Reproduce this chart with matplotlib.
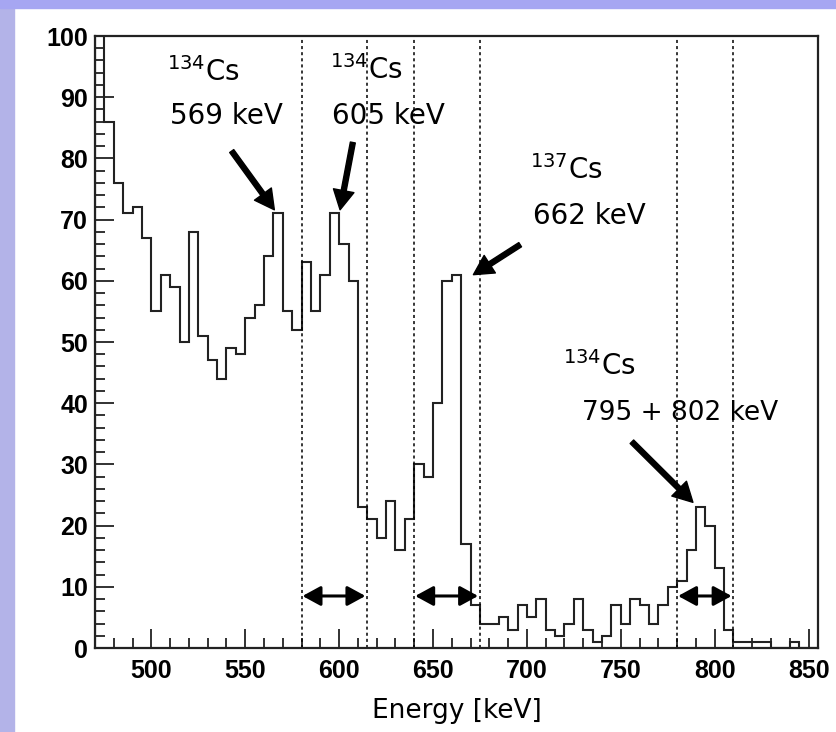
import matplotlib
matplotlib.use('Agg')
import matplotlib.pyplot as plt
import numpy as np
from matplotlib.patches import Rectangle

# energy spectrum, 5 keV bins starting at 470 keV
bin_lo = 470
bin_width = 5
counts = [
    104, 86, 76, 71, 72, 67, 55, 61, 59, 50,   # 470-515
    68, 51, 47, 44, 49, 48, 54, 56, 64, 71,    # 520-565
    55, 52, 63, 55, 61, 71, 66, 60, 23, 21,    # 570-615
    18, 24, 16, 21, 30, 28, 40, 60, 61, 17,    # 620-665
    7, 4, 4, 5, 3, 7, 5, 8, 3, 2,              # 670-715
    4, 8, 3, 1, 2, 7, 4, 8, 7, 4,              # 720-765
    7, 10, 11, 16, 23, 20, 13, 3, 1, 1,        # 770-815
    1, 1, 0, 0, 1, 0, 0,                       # 820-850
]
edges = bin_lo + bin_width * np.arange(len(counts) + 1)

# integration windows (dotted lines)
windows = [(580, 615), (640, 675), (780, 810)]

plt.rcParams['mathtext.default'] = 'regular'

fig = plt.figure(figsize=(8.37, 7.32), dpi=100)
fig.patch.set_facecolor('white')
fig.add_artist(Rectangle((0, 0), 14 / 837, 1, transform=fig.transFigure,
                         color='#b3b3e8', zorder=0))
fig.add_artist(Rectangle((0, 1 - 8 / 732), 1, 8 / 732, transform=fig.transFigure,
                         color='#a6a6f2', zorder=0))

ax = fig.add_axes([95 / 837, 84 / 732, 723 / 837, 612 / 732])
ax.stairs(counts, edges, color='#222222', lw=1.5)
ax.set_xlim(470, 855)
ax.set_ylim(0, 100)

for lo, hi in windows:
    for e in (lo, hi):
        ax.axvline(e, color='black', lw=1.1, ls=(0, (2, 2)))
    ax.annotate('', xy=(hi - 1, 8.5), xytext=(lo + 0.5, 8.5),
                arrowprops=dict(arrowstyle='<|-|>,head_length=0.55,head_width=0.3',
                                color='black', lw=2.2, mutation_scale=20,
                                shrinkA=0, shrinkB=0))

txt = dict(fontsize=20, family='DejaVu Sans', ha='left', va='baseline')
ax.text(508.4, 92.6, r'$^{134}$Cs', **txt)
ax.text(510, 85.6, '569 keV', **txt)
ax.text(595.2, 93, r'$^{134}$Cs', **txt)
ax.text(596.1, 85.6, '605 keV', **txt)
ax.text(701.8, 76.7, r'$^{137}$Cs', **txt)
ax.text(703.3, 69.3, '662 keV', **txt)
ax.text(719.3, 44.6, r'$^{134}$Cs', **txt)
ax.text(729.3, 37.2, '795 + 802 keV', fontsize=19, family='DejaVu Sans',
        ha='left', va='baseline')

arr = dict(arrowstyle='simple,head_length=0.7,head_width=0.75,tail_width=0.18',
           color='black', mutation_scale=20, shrinkA=0, shrinkB=0)
ax.annotate('', xy=(565.5, 71.6), xytext=(542.8, 81.2), arrowprops=arr)
ax.annotate('', xy=(600.5, 71.6), xytext=(607.3, 82.6), arrowprops=arr)
ax.annotate('', xy=(671.5, 61), xytext=(696.4, 65.9), arrowprops=arr)
ax.annotate('', xy=(788.4, 23.8), xytext=(755.9, 33.7), arrowprops=arr)

ax.set_xticks(np.arange(500, 851, 50))
ax.set_xticks(np.arange(480, 851, 10), minor=True)
ax.set_yticks(np.arange(0, 101, 10))
ax.set_yticks(np.arange(0, 101, 2), minor=True)
ax.tick_params(which='both', direction='in', top=False, right=False,
               width=1.3, color='#222222')
ax.tick_params(which='major', length=14)
ax.tick_params(which='minor', length=7)
ax.tick_params(axis='x', pad=8)
ax.tick_params(axis='y', pad=5)
for lab in ax.get_xticklabels() + ax.get_yticklabels():
    lab.set_family('Liberation Sans')
    lab.set_fontweight('bold')
    lab.set_fontsize(18)
for s in ax.spines.values():
    s.set_linewidth(1.6)
    s.set_color('#222222')

ax.set_xlabel('Energy [keV]', fontsize=19, family='DejaVu Sans', labelpad=11)

fig.savefig('out.png', dpi=100)
